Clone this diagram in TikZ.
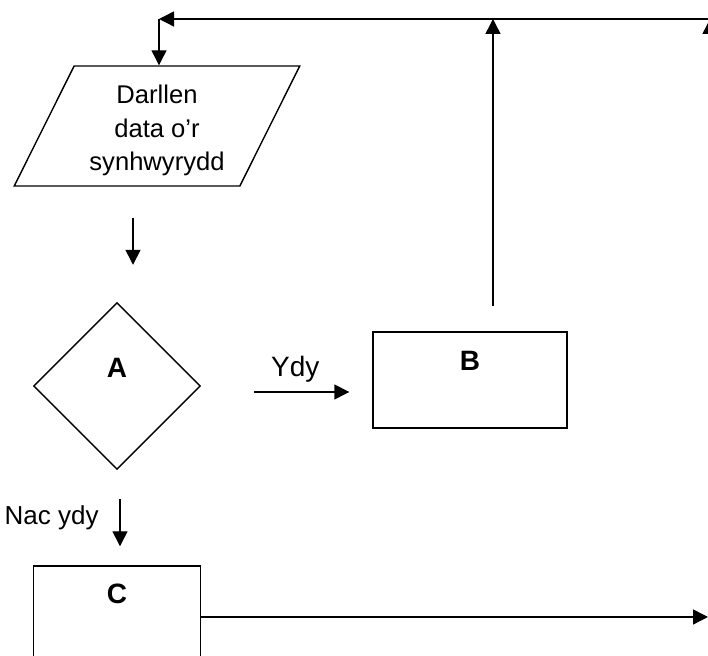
\documentclass[tikz,border=0pt]{standalone}
\usepackage{fontspec}
\setmainfont{Liberation Sans}
\usetikzlibrary{shapes.geometric,arrows.meta}

\begin{document}
\begin{tikzpicture}[x=0.5pt,y=-0.5pt,line width=0.7pt,
  arr/.style={-{Triangle[length=7.5pt,width=7.5pt]}},
  box/.style={draw,rectangle,inner sep=0pt},
  lbl/.style={font=\fontsize{14}{16}\selectfont\bfseries,anchor=center}]
  \useasboundingbox (0,0) rectangle (708,656);

  % Shapes
  \node[draw,trapezium,trapezium left angle=64,trapezium right angle=116,
    trapezium stretches,minimum width=143pt,minimum height=60pt,inner sep=0pt,
    align=center,font=\fontsize{12.8}{16.8}\selectfont] (read) at (157,126)
    {\\[-3pt]Darllen\\data o'r\\synhwyrydd};
  \node[draw,diamond,minimum width=83.5pt,minimum height=83.5pt,inner sep=0pt,
    label={[lbl,yshift=-33pt]north:A}] (A) at (117,386) {};
  \node[box,minimum width=97pt,minimum height=48pt,
    label={[lbl,yshift=-15pt]north:B}] (B) at (470,380) {};
  \node[box,minimum width=83.5pt,minimum height=51pt,
    label={[lbl,yshift=-14.5pt]north:C}] (C) at (117,617) {};

  \coordinate (top) at (710,19);
  \coordinate (corner) at (159,19);
  \coordinate (rgt) at (708,617);

  % Arrows
  \draw[arr,shorten <=15.5pt,shorten >=18.5pt] ([xshift=-12pt]read.south)
    -- ([xshift=-12pt]read.south |- A.north);
  \draw[arr,shorten <=26.5pt,shorten >=11.5pt] ([yshift=-3pt]A.east)
    -- ([yshift=-3pt]A.east -| B.west)
    node[pos=0.55,above=1pt,font=\fontsize{14}{16}\selectfont] (yes) {Ydy};
  \draw[arr,shorten <=14.5pt,shorten >=9.5pt] ([xshift=1.5pt]A.south)
    -- ([xshift=1.5pt]A.south |- C.north)
    node[midway,left=7pt,font=\fontsize{13}{16}\selectfont] (no) {Nac ydy};
  \draw[arr,shorten <=12.5pt] ([xshift=11.5pt]B.north) -- ([xshift=11.5pt]B.north |- top);
  \draw[arr] (top) -- (corner);
  \draw[arr] (corner) -- (corner |- read.north);
  \draw[arr] (top |- rgt) ++(0,60) -- (top);
  \draw[arr] (C.east) -- (rgt);
\end{tikzpicture}
\end{document}
